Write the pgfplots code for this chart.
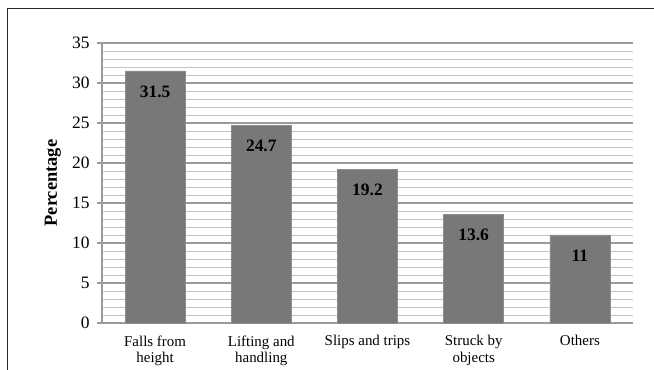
\documentclass[border=0pt]{standalone}
\usepackage{pgfplots}
\pgfplotsset{compat=1.18}
\usepackage{fontspec}
\setmainfont{Liberation Serif}
\definecolor{barfill}{RGB}{120,120,120}
\definecolor{baredge}{RGB}{140,140,140}
\definecolor{majgrid}{RGB}{155,155,155}
\definecolor{mingrid}{RGB}{195,195,195}
\begin{document}
\begin{tikzpicture}
\begin{axis}[
  at={(0,0)}, anchor=south west,
  scale only axis, width=531bp, height=280bp,
  xmin=-0.5, xmax=4.5, ymin=0, ymax=35,
  axis lines*=left,
  axis line style={majgrid, line width=1.1pt},
  ybar, bar width=60bp,
  xtick={0,1,2,3,4},
  xticklabels={{Falls from\\height},{Lifting and\\handling},{Slips and trips},{Struck by\\objects},{Others}},
  xticklabel style={align=center, font=\fontsize{15}{16.5}\selectfont, yshift=-4bp},
  x tick style={draw=none},
  ytick={0,5,...,35},
  minor y tick num=4,
  minor tick length=0pt,
  tick align=outside,
  major tick length=5bp,
  y tick style={majgrid, line width=1.1pt},
  yticklabel style={font=\fontsize{17.5}{19}\selectfont, xshift=-4bp},
  /pgf/number format/assume math mode=true,
  ymajorgrids, yminorgrids,
  major grid style={majgrid, line width=1.1pt},
  minor grid style={mingrid, line width=0.9pt},
  ylabel={Percentage},
  ylabel style={font=\bfseries\fontsize{18.5}{20}\selectfont, at={(axis description cs:-0.0923,0.5)}, anchor=center},
  nodes near coords,
  every node near coord/.append style={anchor=north, yshift=-11bp, font=\bfseries\fontsize{17.5}{19}\selectfont, black},
  clip=false,
]
\addplot[fill=barfill, draw=baredge, line width=0.8pt] coordinates {(0,31.5) (1,24.7) (2,19.2) (3,13.6) (4,11)};
\end{axis}
\draw[line width=1pt, black!85] (-95bp,-47bp) -- (-95bp,314bp) -- (552bp,314bp);
\pgfresetboundingbox
\path[use as bounding box] (-102bp,-47bp) rectangle (552bp,323bp);
\end{tikzpicture}
\end{document}
